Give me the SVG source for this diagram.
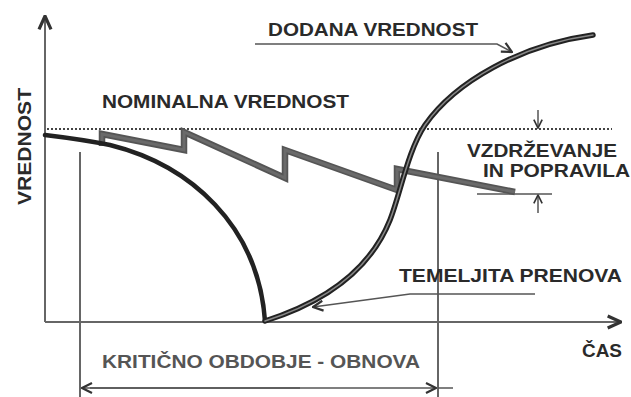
<svg xmlns="http://www.w3.org/2000/svg" width="631" height="397" viewBox="0 0 631 397">
<defs>
<style>
.t{font-family:"Liberation Sans",Arial,sans-serif;font-weight:bold;fill:#2a2a2a;font-size:19px}
.ax{stroke:#666;stroke-width:2;fill:none}
.thin{stroke:#555;stroke-width:1.5;fill:none}
</style>
<marker id="ah" viewBox="0 0 12 12" refX="11" refY="6" markerWidth="12" markerHeight="12" markerUnits="userSpaceOnUse" orient="auto">
<path d="M1,1 L11,6 L1,11" fill="none" stroke="#333" stroke-width="2.2"/>
</marker>
<marker id="ahs" viewBox="0 0 12 12" refX="11" refY="6" markerWidth="10" markerHeight="10" markerUnits="userSpaceOnUse" orient="auto">
<path d="M1,1 L11,6 L1,11" fill="none" stroke="#333" stroke-width="2"/>
</marker>
<marker id="ahb" viewBox="0 0 12 12" refX="11" refY="6" markerWidth="16" markerHeight="16" markerUnits="userSpaceOnUse" orient="auto">
<path d="M1,1.5 L11,6 L1,10.5" fill="none" stroke="#333" stroke-width="2.4"/>
</marker>
</defs>
<rect width="631" height="397" fill="#fff"/>
<g id="axes">
<line class="ax" x1="45" y1="322" x2="45" y2="16" marker-end="url(#ahb)"/>
<line class="ax" x1="45" y1="322" x2="621" y2="322" marker-end="url(#ahb)"/>
</g>
<g id="nominal">
<line x1="47" y1="129" x2="612" y2="129" stroke="#444" stroke-width="2" stroke-dasharray="2,2"/>
<text class="t" x="102" y="108" textLength="247" lengthAdjust="spacingAndGlyphs">NOMINALNA VREDNOST</text>
</g>
<g id="period">
<line class="ax" x1="80" y1="152" x2="80" y2="397"/>
<line class="ax" x1="438" y1="152" x2="438" y2="397"/>
<line class="thin" x1="438" y1="388" x2="453" y2="388"/>
<line class="thin" x1="90" y1="388" x2="436" y2="388" marker-end="url(#ah)"/>
<line class="thin" x1="300" y1="388" x2="82" y2="388" marker-end="url(#ah)"/>
<text class="t" x="102" y="368" style="fill:#555" textLength="318" lengthAdjust="spacingAndGlyphs">KRITIČNO OBDOBJE - OBNOVA</text>
</g>
<g id="maintenance">
<polyline points="102,146 102,134 184,150 184,132 285,178 285,150 397,190 397,169 515,192" fill="none" stroke="#555" stroke-width="6.5" stroke-linejoin="miter"/>
<polyline points="102,146 102,134 184,150 184,132 285,178 285,150 397,190 397,169 515,192" fill="none" stroke="#6a6a6a" stroke-width="3" stroke-linejoin="miter"/>
</g>
<g id="decline">
<path d="M45,135 C70,138 90,141 110,145 C190,165 258,225 265,321" fill="none" stroke="#222" stroke-width="4.5" stroke-linecap="round"/>
</g>
<g id="added">
<path d="M265,321 C325,302 370,270 390,220 C400,195 408,150 425,125 C455,82 520,45 593,35" fill="none" stroke="#222" stroke-width="5.5" stroke-linecap="round"/>
<path d="M265,321 C325,302 370,270 390,220 C400,195 408,150 425,125 C455,82 520,45 593,35" fill="none" stroke="#888" stroke-width="1.5" stroke-linecap="round"/>
</g>
<g id="connectors">
<polyline class="thin" points="255,44 497,44 512,52" marker-end="url(#ah)"/>
<polyline class="thin" points="535,294 410,294 313,307" marker-end="url(#ah)"/>
<line class="thin" x1="538" y1="110" x2="538" y2="128" marker-end="url(#ahs)"/>
<line class="thin" x1="538" y1="213" x2="538" y2="195" marker-end="url(#ahs)"/>
<line class="thin" x1="477" y1="194" x2="552" y2="194"/>
</g>
<g id="labels">
<text class="t" x="268" y="36" textLength="210" lengthAdjust="spacingAndGlyphs">DODANA VREDNOST</text>
<text class="t" x="467" y="157" textLength="150" lengthAdjust="spacingAndGlyphs">VZDRŽEVANJE</text>
<text class="t" x="483" y="177" textLength="147" lengthAdjust="spacingAndGlyphs">IN POPRAVILA</text>
<text class="t" x="399" y="282" textLength="223" lengthAdjust="spacingAndGlyphs">TEMELJITA PRENOVA</text>
<text class="t" x="582" y="357" textLength="40" lengthAdjust="spacingAndGlyphs">ČAS</text>
<text class="t" transform="translate(31,205) rotate(-90)" x="0" y="0" textLength="117" lengthAdjust="spacingAndGlyphs">VREDNOST</text>
</g>
</svg>
